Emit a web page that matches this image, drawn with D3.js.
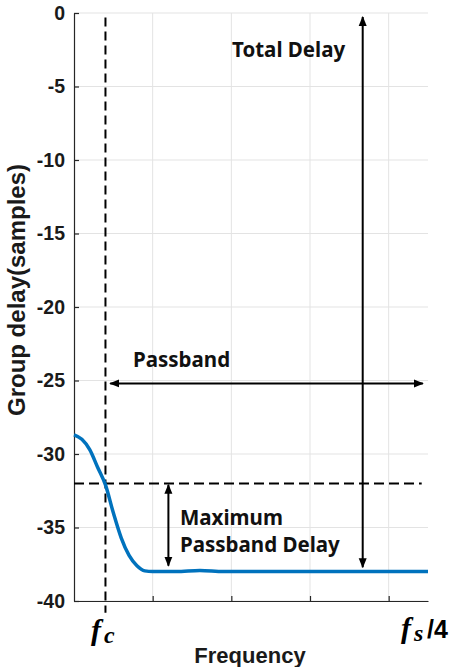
<!DOCTYPE html>
<meta charset="utf-8">
<style>
    body { margin: 0; background: #fff; }
    .grid line { stroke: #e3e3e3; stroke-width: 1px; }
    .axis path, .axis line { stroke: #262626; stroke-width: 1.2px; }
    .axis text { font-family: "Liberation Sans", Arial, sans-serif; font-weight: bold; font-size: 19.5px; fill: #1a1a1a; }
    .note { font-family: "Noto Sans", sans-serif; font-weight: bold; font-size: 20.5px; fill: #111; }
</style>
<svg width="458" height="667"></svg>
<script src="https://d3js.org/d3.v7.min.js"></script>
<script>

    // group delay curve (normalised frequency, samples)
    var freq  = [0, 0.01, 0.02, 0.03, 0.04, 0.05, 0.06, 0.07, 0.08, 0.09, 0.1, 0.13, 0.16, 0.19, 0.25, 0.35, 0.45];
    var delay = [-28.7, -29.0, -29.7, -30.9, -32.1, -34.0, -35.7, -36.9, -37.6, -37.95, -38.0, -38.0, -37.93, -38.0, -38.0, -38.0, -38.0];

    var yTicks = [0, -5, -10, -15, -20, -25, -30, -35, -40];
    var xTicks = [0.1, 0.2, 0.3, 0.4];

    // annotation positions (data units)
    var fc = 0.04;
    var maxDelayLevel = -32;
    var passbandLevel = -25.2;
    var totalDelayX = 0.367;
    var maxDelayArrowX = 0.12;

    var svg = d3.select("svg"),
        width = +svg.attr("width"),
        height = +svg.attr("height");

    var margin = {top: 13, right: 30, bottom: 66, left: 74};

    var x = d3.scaleLinear().domain([0, 0.45]).range([margin.left, width - margin.right]);
    var y = d3.scaleLinear().domain([-40, 0]).range([height - margin.bottom, margin.top]);

    var defs = svg.append("defs");
    defs.append("marker")
        .attr("id", "head")
        .attr("viewBox", "0 0 10 10")
        .attr("refX", 9).attr("refY", 5)
        .attr("markerWidth", 10).attr("markerHeight", 10)
        .attr("markerUnits", "userSpaceOnUse")
        .attr("orient", "auto-start-reverse")
        .append("path")
        .attr("d", "M0,1 L10,5 L0,9 Z")
        .attr("fill", "#000");

    // grid
    var grid = svg.append("g").attr("class", "grid");
    grid.selectAll(".h").data(yTicks).enter().append("line")
        .attr("x1", x(0)).attr("x2", x(0.45))
        .attr("y1", function(d) { return y(d); })
        .attr("y2", function(d) { return y(d); });
    grid.selectAll(".v").data(xTicks).enter().append("line")
        .attr("x1", function(d) { return x(d); })
        .attr("x2", function(d) { return x(d); })
        .attr("y1", y(0)).attr("y2", y(-40));

    // axes
    svg.append("g")
        .attr("class", "axis")
        .attr("transform", "translate(" + margin.left + ",0)")
        .call(d3.axisLeft(y).tickValues(yTicks).tickSizeInner(-5).tickSizeOuter(0).tickPadding(9)
            .tickFormat(function(d) { return String(d); }));

    svg.append("g")
        .attr("class", "axis")
        .attr("transform", "translate(0," + y(-40) + ")")
        .call(d3.axisBottom(x).tickValues(xTicks).tickSizeInner(-5).tickSizeOuter(0).tickFormat(""));

    // dashed reference lines
    svg.append("line")
        .attr("x1", x(fc)).attr("x2", x(fc))
        .attr("y1", y(-0.3)).attr("y2", y(-40.8))
        .attr("stroke", "#000").attr("stroke-width", 2)
        .attr("stroke-dasharray", "9,5");

    svg.append("line")
        .attr("x1", x(0)).attr("x2", x(0.442))
        .attr("y1", y(maxDelayLevel)).attr("y2", y(maxDelayLevel))
        .attr("stroke", "#000").attr("stroke-width", 2)
        .attr("stroke-dasharray", "10,5");

    // curve
    var line = d3.line()
        .x(function(d, i) { return x(freq[i]); })
        .y(function(d) { return y(d); })
        .curve(d3.curveMonotoneX);

    svg.append("path")
        .datum(delay)
        .attr("d", line)
        .attr("fill", "none")
        .attr("stroke", "#0072BD")
        .attr("stroke-width", 3.5);

    // arrows
    function arrow(x1, y1, x2, y2) {
        svg.append("line")
            .attr("x1", x(x1)).attr("y1", y(y1))
            .attr("x2", x(x2)).attr("y2", y(y2))
            .attr("stroke", "#000").attr("stroke-width", 2)
            .attr("marker-start", "url(#head)")
            .attr("marker-end", "url(#head)");
    }
    arrow(totalDelayX, -0.27, totalDelayX, -37.7);
    arrow(0.046, passbandLevel, 0.4435, passbandLevel);
    arrow(maxDelayArrowX, -32.1, maxDelayArrowX, -37.6);

    // annotation text
    svg.append("text").attr("class", "note").attr("x", 232).attr("y", 57).text("Total Delay");
    svg.append("text").attr("class", "note").attr("x", 133).attr("y", 367).text("Passband");
    svg.append("text").attr("class", "note").attr("x", 180).attr("y", 525).text("Maximum");
    svg.append("text").attr("class", "note").attr("x", 180).attr("y", 552).text("Passband Delay");

    // axis titles
    svg.append("text")
        .attr("transform", "translate(25,290) rotate(-90)")
        .attr("text-anchor", "middle")
        .attr("font-family", "Liberation Sans, Arial, sans-serif")
        .attr("font-weight", "bold")
        .attr("font-size", 24)
        .attr("fill", "#1a1a1a")
        .text("Group delay(samples)");

    svg.append("text")
        .attr("x", 250)
        .attr("y", 663)
        .attr("text-anchor", "middle")
        .attr("font-family", "Liberation Sans, Arial, sans-serif")
        .attr("font-weight", "bold")
        .attr("font-size", 22)
        .attr("fill", "#1a1a1a")
        .text("Frequency");

    // f_c and f_s/4 labels
    var fcLabel = svg.append("text")
        .attr("y", 640)
        .attr("font-family", "Liberation Serif, serif")
        .attr("font-style", "italic").attr("font-weight", "bold")
        .attr("font-size", 30).attr("fill", "#000");
    fcLabel.append("tspan").attr("x", 91).text("f");
    fcLabel.append("tspan").attr("x", 104).attr("dy", 3).attr("font-size", 24).text("c");

    var fsLabel = svg.append("text")
        .attr("y", 638)
        .attr("font-family", "Liberation Serif, serif")
        .attr("font-weight", "bold")
        .attr("font-size", 30).attr("fill", "#000");
    fsLabel.append("tspan").attr("x", 401).attr("font-style", "italic").text("f");
    fsLabel.append("tspan").attr("x", 414).attr("font-style", "italic").attr("dy", 3).attr("font-size", 24).text("s");
    fsLabel.append("tspan").attr("x", 427).attr("dy", -3).attr("font-family", "Liberation Sans, Arial, sans-serif").attr("font-size", 25).text("/4");

</script>
